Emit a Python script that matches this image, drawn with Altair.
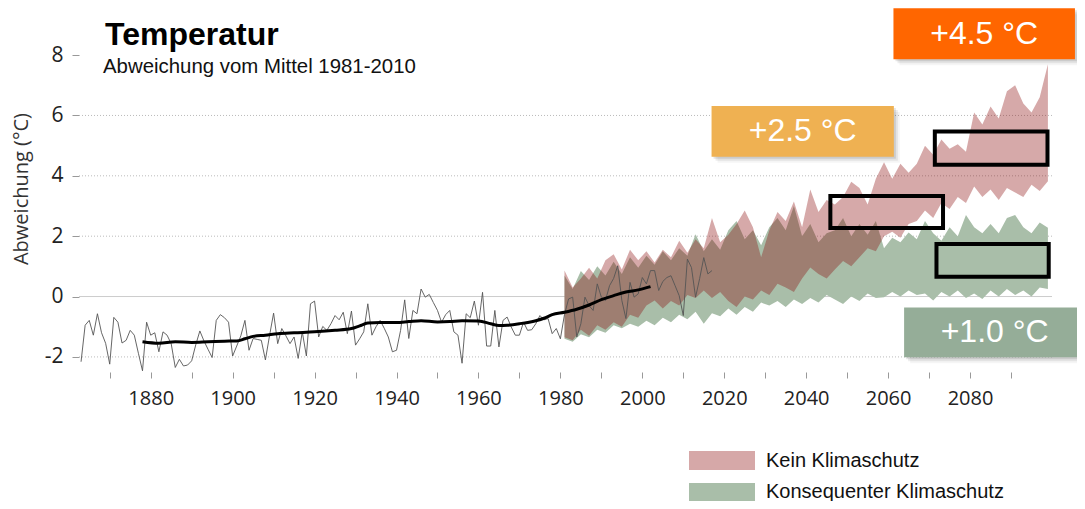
import altair as alt
import pandas as pd

# ---------------- data ----------------
obs_start = 1863
obs_vals = [
    -2.16, -0.95, -0.79, -1.28, -0.57, -1.2, -1.55, -2.24, -0.69, -0.85,   # 1863-1872
    -1.54, -1.45, -1.12, -1.28, -1.88, -2.46, -0.85, -1.28, -1.2, -1.83,   # 1873-1882
    -1.17, -1.28, -1.56, -2.35, -2.08, -2.3, -2.27, -2.13, -1.6, -1.14,    # 1883-1892
    -1.47, -1.75, -2.02, -0.79, -0.6, -0.7, -0.85, -1.97, -1.64, -1.3,     # 1893-1902
    -0.79, -1.78, -1.39, -1.42, -1.45, -2.1, -1.3, -0.55, -1.56, -1.06,    # 1903-1912
    -1.3, -1.56, -1.34, -2.05, -1.17, -1.97, -0.24, -0.15, -1.34, -0.99,   # 1913-1922
    -1.12, -0.9, -0.63, -0.77, -0.52, -1.23, -0.48, -1.61, -1.4, -1.17,    # 1923-1932
    -0.24, -1.28, -1.0, -0.79, -1.05, -1.34, -1.83, -1.78, -1.12, -0.11,   # 1933-1942
    -1.39, -0.46, -0.57, 0.25, -0.02, 0.07, -0.2, -0.46, -0.85, -0.6,      # 1943-1952
    -0.46, -1.17, -1.28, -2.21, -0.57, -0.7, -0.15, -0.95, 0.14, -1.64,    # 1953-1962
    -1.64, -0.46, -1.67, -0.79, -0.68, -1.01, -1.28, -1.28, -0.85, -1.12,  # 1963-1972
    -1.1, -0.9, -0.63, -0.77, -0.73, -1.23, -1.06, -1.4, -0.6, -0.08,      # 1973-1982
    -0.02, -1.34, -0.9, -0.02, -0.3, -0.46, 0.42, -0.02, -0.13, 0.36,      # 1983-1992
    0.6, 1.02, -0.13, -0.73, 0.47, -0.02, 0.09, 0.63, 0.42, 0.86,          # 1993-2002
    0.86, 0.2, 0.5, 0.63, 0.69, 0.36, 0.03, -0.63, 1.24, 0.96,             # 2003-2012
    -0.02, 0.6, 1.29, 0.75, 0.86,                                          # 2013-2017
]
obs_years = list(range(obs_start, obs_start + len(obs_vals)))

smooth_years = [1878, 1882, 1886, 1890, 1894, 1898, 1901, 1903, 1905, 1908, 1911,
                1915, 1920, 1925, 1929, 1931, 1933, 1936, 1940, 1943, 1946, 1950,
                1953, 1956, 1960, 1963, 1965, 1967, 1970, 1974, 1976, 1978, 1981,
                1984, 1987, 1990, 1993, 1996, 1999, 2002]
smooth_vals = [-1.5, -1.55, -1.5, -1.52, -1.5, -1.48, -1.47, -1.4, -1.32, -1.28, -1.23,
               -1.2, -1.17, -1.12, -1.06, -0.97, -0.88, -0.86, -0.86, -0.83, -0.8, -0.84,
               -0.83, -0.8, -0.81, -0.9, -0.96, -0.95, -0.9, -0.8, -0.72, -0.6, -0.52,
               -0.42, -0.28, -0.1, 0.03, 0.15, 0.22, 0.33]

band_years = list(range(1981, 2100, 2))
kein_upper = [0.86, 0.3, 0.6, 0.95, 0.6, 1.2, 1.4, 0.9, 1.55, 1.2,
              1.5, 1.13, 1.55, 1.3, 1.85, 1.45, 1.9, 1.6, 2.6, 1.8,
              2.05, 2.4, 2.85, 2.3, 1.3, 2.2, 2.8, 2.5, 3.15, 2.3,
              3.55, 2.8, 3.2, 3.05, 3.3, 3.8, 3.6, 3.05, 3.9, 4.45,
              3.9, 4.4, 4.1, 4.4, 5.0, 4.7, 5.2, 4.9, 5.05, 4.8,
              6.1, 5.7, 6.3, 5.9, 6.8, 7.0, 6.4, 6.1, 6.6, 7.7]
kein_lower = [-1.35, -1.45, -1.1, -1.3, -0.95, -1.1, -0.85, -1.0, -0.6, -0.7,
              -0.3, -0.13, -0.4, -0.15, -0.3, 0.05, -0.05, 0.2, -0.05, 0.15,
              -0.15, -0.35, 0.0, -0.1, 0.2, 0.05, 0.42, 0.3, 0.15, 0.6,
              0.96, 0.75, 0.6, 0.9, 1.18, 1.0, 1.3, 1.6, 1.5, 2.0,
              2.15, 1.95, 2.4, 2.5, 2.85, 2.6, 3.1, 2.9, 3.3, 3.1,
              3.65, 3.3, 3.55, 3.2, 3.6, 3.45, 3.3, 3.7, 3.5, 3.82]
kons_upper = [0.7, 0.25, 0.85, 0.55, 1.0, 0.7, 1.15, 0.75, 1.3, 0.95,
              1.35, 1.05, 1.5, 1.2, 1.6, 1.35, 2.06, 1.5, 1.9, 1.55,
              2.2, 2.5, 1.9, 2.2, 1.7, 2.3, 2.6, 2.2, 3.0, 2.0,
              2.4, 1.8, 2.1, 2.2, 2.6, 2.0, 2.4, 2.05, 2.5, 1.6,
              1.95, 1.8, 2.12, 1.9, 2.5, 2.1, 1.85, 2.3, 2.0, 2.7,
              2.3, 2.1, 2.4, 2.1, 2.6, 2.7, 2.3, 2.1, 2.45, 2.28]
kons_lower = [-1.4, -1.5, -1.25, -1.35, -1.1, -1.2, -0.95, -1.05, -0.9, -1.0,
              -0.8, -0.95, -0.7, -0.85, -0.6, -0.75, -0.5, -0.9, -0.55, -0.65,
              -0.4, -0.6, -0.35, -0.5, -0.2, -0.3, -0.15, -0.35, -0.1, -0.25,
              -0.05, -0.2, 0.05, -0.1, -0.25, 0.0, -0.15, 0.1, -0.05, -0.02,
              0.15, 0.0, 0.2, 0.05, 0.1, -0.13, 0.15, 0.0, 0.2, -0.05,
              0.1, -0.08, 0.2, 0.0, 0.25, 0.05, 0.2, 0.0, 0.3, 0.25]

# black outline boxes (period means)
box_x1 = [2045.9, 2071.4, 2071.8]
box_x2 = [2073.4, 2098.9, 2099.2]
box_y1 = [2.27, 4.37, 0.66]
box_y2 = [3.33, 5.47, 1.74]

# coloured labels
anno_text = ["+4.5 °C", "+2.5 °C", "+1.0 °C"]
anno_fill = ["#FF6600", "#EFB152", "#95AD98"]
anno_x1 = [2061.3, 2016.9, 2063.9]
anno_x2 = [2105.6, 2061.4, 2108.1]
anno_y1 = [7.86, 4.63, -2.01]
anno_y2 = [9.55, 6.31, -0.36]

legend_labels = ["Kein Klimaschutz", "Konsequenter Klimaschutz"]
red_swatch = "#D6A8A8"
red_ink = "#8A0808"       # drawn at 35 % opacity -> pink over white, brown over green
green_col = "#A9BEA9"

y_ticks = [-2, 0, 2, 4, 6, 8]
grid_dotted = [-2, 2, 4, 6]
grid_solid = [0]
x_ticks = list(range(1870, 2100, 10))

# ---------------- tables ----------------
obs = pd.DataFrame({"year": obs_years, "v": obs_vals})
smooth = pd.DataFrame({"year": smooth_years, "v": smooth_vals})
bands = pd.DataFrame({"year": band_years, "ku": kein_upper, "kl": kein_lower,
                      "gu": kons_upper, "gl": kons_lower})
boxes = pd.DataFrame({"x1": box_x1, "x2": box_x2, "y1": box_y1, "y2": box_y2})
anno = pd.DataFrame({"t": anno_text, "c": anno_fill, "x1": anno_x1, "x2": anno_x2,
                     "y1": anno_y1, "y2": anno_y2})
anno["xm"] = (anno["x1"] + anno["x2"]) / 2
anno["ym"] = (anno["y1"] + anno["y2"]) / 2

xs = alt.Scale(domain=[1862.5, 2100], nice=False, zero=False)
ys = alt.Scale(domain=[-2.5, 8.5], nice=False, zero=False)

x_axis = alt.Axis(values=x_ticks, format="d",
                  labelExpr="datum.value % 20 === 0 ? datum.label : ''",
                  labelOverlap=False, domain=False, grid=False,
                  tickColor="#999999", tickSize=6,
                  labelFont="Open Sans", labelFontSize=20, labelColor="#222222",
                  labelPadding=10, title=None)
y_axis = alt.Axis(values=y_ticks, domain=False, grid=False,
                  labelExpr="replace(datum.label, '\u2212', '-')",
                  tickColor="#999999", tickSize=7,
                  labelFont="Open Sans", labelFontSize=21, labelColor="#222222",
                  labelPadding=9, title=None)

grid_d = alt.Chart(pd.DataFrame({"g": grid_dotted})).mark_rule(
    color="#BBBBBB", strokeWidth=1, strokeDash=[1, 2]).encode(
    y=alt.Y("g:Q", scale=ys, axis=y_axis))
grid_s = alt.Chart(pd.DataFrame({"g": grid_solid})).mark_rule(
    color="#CCCCCC", strokeWidth=1).encode(
    y=alt.Y("g:Q", scale=ys))

base_b = alt.Chart(bands)

green_area = base_b.mark_area(color=green_col, opacity=1).encode(
    x=alt.X("year:Q", scale=xs, axis=x_axis),
    y=alt.Y("gl:Q", scale=ys),
    y2="gu:Q")
red_area = base_b.mark_area(color=red_ink, opacity=0.35).encode(
    x=alt.X("year:Q", scale=xs),
    y=alt.Y("kl:Q", scale=ys),
    y2="ku:Q")

thin = alt.Chart(obs).mark_line(color="#555555", strokeWidth=0.9).encode(
    x=alt.X("year:Q", scale=xs), y=alt.Y("v:Q", scale=ys))
thick = alt.Chart(smooth).mark_line(color="black", strokeWidth=3, interpolate="monotone").encode(
    x=alt.X("year:Q", scale=xs), y=alt.Y("v:Q", scale=ys))

box_layer = alt.Chart(boxes).mark_rect(fillOpacity=0, stroke="black", strokeWidth=4).encode(
    x=alt.X("x1:Q", scale=xs), x2="x2:Q",
    y=alt.Y("y1:Q", scale=ys), y2="y2:Q")

shadows = []
for k, op in [(2, 0.10), (4, 0.07), (6, 0.04)]:
    shadows.append(alt.Chart(anno).mark_rect(
        color="black", opacity=op, xOffset=k, x2Offset=k, yOffset=k, y2Offset=k).encode(
        x=alt.X("x1:Q", scale=xs), x2="x2:Q",
        y=alt.Y("y1:Q", scale=ys), y2="y2:Q"))

anno_rect = alt.Chart(anno).mark_rect().encode(
    x=alt.X("x1:Q", scale=xs), x2="x2:Q",
    y=alt.Y("y1:Q", scale=ys), y2="y2:Q",
    fill=alt.Fill("c:N", scale=None))
anno_txt = alt.Chart(anno).mark_text(font="Liberation Sans", fontSize=32, color="white",
                                     align="center", baseline="middle").encode(
    x=alt.X("xm:Q", scale=xs), y=alt.Y("ym:Q", scale=ys), text="t:N")

title_t = alt.Chart(pd.DataFrame({"t": ["Temperatur"]})).mark_text(
    font="Liberation Sans", fontSize=32, fontWeight="bold", color="black",
    align="left", baseline="alphabetic").encode(
    x=alt.value(26), y=alt.value(5), text="t:N")
sub_t = alt.Chart(pd.DataFrame({"t": ["Abweichung vom Mittel 1981-2010"]})).mark_text(
    font="Liberation Sans", fontSize=20.4, color="#111111",
    align="left", baseline="alphabetic").encode(
    x=alt.value(24), y=alt.value(33), text="t:N")
ytitle_t = alt.Chart(pd.DataFrame({"t": ["Abweichung (°C)"]})).mark_text(
    font="Open Sans", fontSize=20, color="#333333", angle=270,
    align="center", baseline="middle").encode(
    x=alt.value(-57), y=alt.value(149), text="t:N")

leg_df0 = pd.DataFrame({"t": [legend_labels[0]]})
leg_df1 = pd.DataFrame({"t": [legend_labels[1]]})
leg_r0 = alt.Chart(leg_df0).mark_rect(color=red_swatch).encode(
    x=alt.value(610), x2=alt.value(676), y=alt.value(411), y2=alt.value(430))
leg_r1 = alt.Chart(leg_df1).mark_rect(color=green_col).encode(
    x=alt.value(610), x2=alt.value(676), y=alt.value(443), y2=alt.value(461))
leg_t0 = alt.Chart(leg_df0).mark_text(font="Liberation Sans", fontSize=20, color="#111111",
                                      align="left", baseline="middle").encode(
    x=alt.value(687), y=alt.value(421), text="t:N")
leg_t1 = alt.Chart(leg_df1).mark_text(font="Liberation Sans", fontSize=20, color="#111111",
                                      align="left", baseline="middle").encode(
    x=alt.value(687), y=alt.value(452), text="t:N")

chart = alt.layer(
    grid_d, grid_s, green_area, red_area, thin, thick, box_layer, *shadows, anno_rect,
    anno_txt, title_t, sub_t, ytitle_t, leg_r0, leg_r1, leg_t0, leg_t1
).properties(
    width=973, height=332,
    autosize=alt.AutoSizeParams(type="none"),
    padding={"left": 71, "top": 32, "right": 25, "bottom": 129},
    background="white",
).configure_view(stroke=None)

chart.save("out.html", embed_options={"renderer": "svg", "actions": False})
